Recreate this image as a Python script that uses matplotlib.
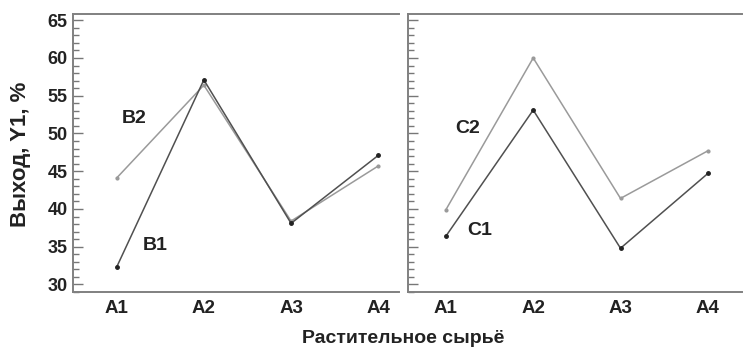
import matplotlib
matplotlib.use("Agg")
import matplotlib.pyplot as plt
from matplotlib.ticker import MultipleLocator

plt.rcParams['font.family'] = ['Liberation Sans', 'DejaVu Sans']

# данные
categories = ['A1', 'A2', 'A3', 'A4']
b1 = [32.3, 57.1, 38.1, 47.1]
b2 = [44.1, 56.4, 38.4, 45.7]
c1 = [36.4, 53.1, 34.8, 44.7]
c2 = [39.9, 60.0, 41.4, 47.7]

x = range(len(categories))
dark, light = '#505050', '#9a9a9a'

fig = plt.figure(figsize=(7.43, 3.54), dpi=100)
ax1 = fig.add_axes([0.0983, 0.175, 0.439, 0.785])
ax2 = fig.add_axes([0.549, 0.175, 0.4495, 0.785])

for ax in (ax1, ax2):
    ax.set_ylim(29, 65.8)
    ax.yaxis.set_major_locator(MultipleLocator(5))
    ax.yaxis.set_minor_locator(MultipleLocator(1))
    ax.tick_params(axis='y', which='major', direction='in', length=7, width=1, color='#777777', pad=4)
    ax.tick_params(axis='y', which='minor', direction='in', length=4, width=1, color='#777777')
    ax.tick_params(axis='x', length=0, pad=6)
    ax.set_xticks(list(x))
    ax.set_xticklabels(categories, fontsize=13.5, fontweight='bold', color='#222222')
    ax.spines['right'].set_visible(False)
    for s in ('left', 'top', 'bottom'):
        ax.spines[s].set_color('#808080')
        ax.spines[s].set_linewidth(1.4)

ax1.set_xlim(-0.5, 3.24)
ax2.set_xlim(-0.435, 3.39)

ax1.plot(x, b2, color=light, lw=1.1, marker='o', ms=2, mfc=light, mec=light)
ax1.plot(x, b1, color=dark, lw=1.1, marker='o', ms=2.5, mfc='#222222', mec='#222222')
ax2.plot(x, c2, color=light, lw=1.1, marker='o', ms=2, mfc=light, mec=light)
ax2.plot(x, c1, color=dark, lw=1.1, marker='o', ms=2.5, mfc='#222222', mec='#222222')

for t in ax1.get_yticklabels():
    t.set_fontsize(13)
    t.set_fontweight('bold')
    t.set_color('#222222')
ax2.set_yticklabels([])

lab = dict(fontsize=14, fontweight='bold', color='#222222', ha='center', va='center')
ax1.text(0.2, 52.0, 'B2', **lab)
ax1.text(0.44, 35.2, 'B1', **lab)
ax2.text(0.25, 50.7, 'C2', **lab)
ax2.text(0.39, 37.2, 'C1', **lab)

fig.text(0.028, 0.565, 'Выход, Y1, %', rotation=90, fontsize=16, fontweight='bold',
         color='#222222', ha='center', va='center')
fig.text(0.543, 0.045, 'Растительное сырьё', fontsize=14, fontweight='bold',
         color='#222222', ha='center', va='center')

fig.savefig('out.png', dpi=100)
